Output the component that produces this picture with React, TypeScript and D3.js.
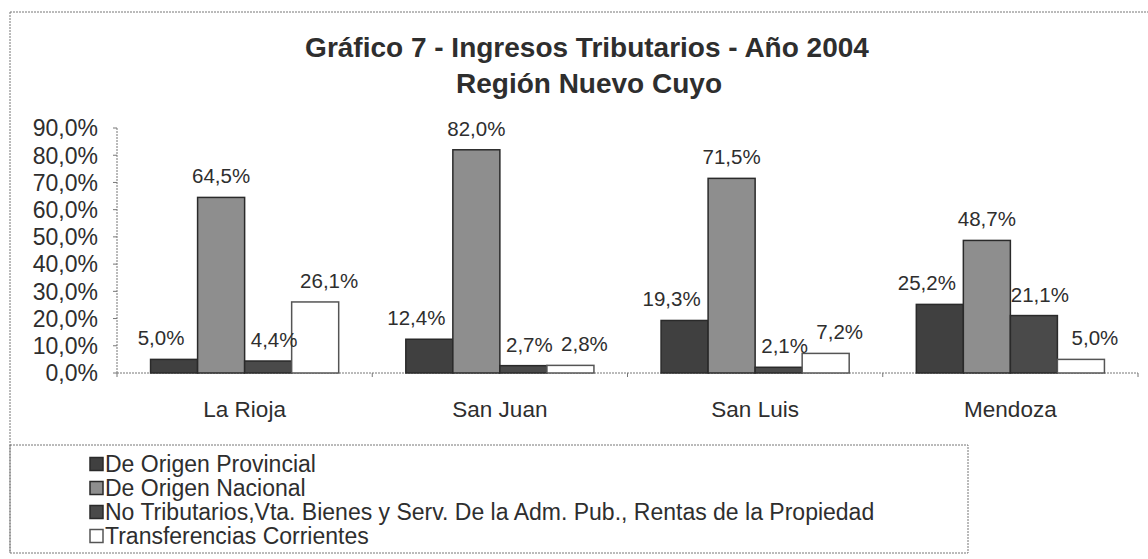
import React from "react";
import * as d3 from "d3";

const categories = ["La Rioja", "San Juan", "San Luis", "Mendoza"];
const seriesNames = [
  "De Origen Provincial",
  "De Origen Nacional",
  "No Tributarios,Vta. Bienes y Serv. De la Adm. Pub., Rentas de la Propiedad",
  "Transferencias Corrientes",
];
const provincial = [5.0, 12.4, 19.3, 25.2];
const nacional = [64.5, 82.0, 71.5, 48.7];
const noTributarios = [4.4, 2.7, 2.1, 21.1];
const transferencias = [26.1, 2.8, 7.2, 5.0];
const yTicks = [0, 10, 20, 30, 40, 50, 60, 70, 80, 90];

const seriesValues = [provincial, nacional, noTributarios, transferencias];
const fills = ["#404040", "#8e8e8e", "#4a4a4a", "#ffffff"];
const strokes = ["#2a2a2a", "#2a2a2a", "#2a2a2a", "#555555"];
// horizontal nudge of the value labels per series (label style)
const labelShift = [-13, 0, 6, 14];

const W = 1148;
const H = 559;
const FONT = "'Liberation Sans', Arial, sans-serif";
const TXT = "#2e2e2e";

const fmt = (v: number) => v.toFixed(1).replace(".", ",") + "%";

export default function App() {
  const left = 117;
  const right = 1138;
  const top = 128;
  const bottom = 373;

  const y = d3.scaleLinear().domain([0, 90]).range([bottom, top]);
  const x0 = d3
    .scaleBand<string>()
    .domain(categories)
    .range([left, right])
    .paddingInner(0.263)
    .paddingOuter(0.1315);
  const x1 = d3
    .scaleBand<string>()
    .domain(seriesNames)
    .range([0, x0.bandwidth()])
    .padding(0);
  const step = x0.step();

  return (
    <svg
      width={W}
      height={H}
      style={{ position: "absolute", left: 0, top: 0, background: "#fff" }}
      fontFamily={FONT}
    >
      {/* outer frame (top and left) */}
      <line x1={10} y1={12} x2={W} y2={12} stroke="#777" strokeDasharray="2,1" />
      <line x1={10} y1={12} x2={10} y2={553} stroke="#777" strokeDasharray="2,1" />

      {/* title */}
      <text x={587} y={57} textAnchor="middle" fontSize={28} fontWeight="bold" fill={TXT}>
        Gráfico 7 - Ingresos Tributarios - Año 2004
      </text>
      <text x={589} y={93} textAnchor="middle" fontSize={28} fontWeight="bold" fill={TXT}>
        Región Nuevo Cuyo
      </text>

      {/* y axis */}
      <line x1={left} y1={top} x2={left} y2={bottom} stroke="#777" strokeDasharray="2,1" />
      {yTicks.map((t) => (
        <g key={t}>
          <line x1={left - 4} x2={left} y1={y(t)} y2={y(t)} stroke="#777" />
          <text
            x={98}
            y={y(t)}
            dy="0.36em"
            textAnchor="end"
            fontSize={23}
            fill={TXT}
          >
            {fmt(t)}
          </text>
        </g>
      ))}

      {/* x axis */}
      <line x1={left} y1={bottom} x2={right} y2={bottom} stroke="#777" strokeDasharray="2,1" />
      {categories.map((c, i) => (
        <line
          key={c}
          x1={left + step * i}
          x2={left + step * i}
          y1={bottom}
          y2={bottom + 4}
          stroke="#777"
        />
      ))}
      <line x1={right} x2={right} y1={bottom} y2={bottom + 4} stroke="#777" />

      {/* bars */}
      {categories.map((c, ci) => (
        <g key={c} transform={`translate(${x0(c)},0)`}>
          {seriesNames.map((s, si) => {
            const v = seriesValues[si][ci];
            const bx = x1(s) as number;
            const bw = x1.bandwidth();
            return (
              <rect
                key={s}
                x={bx}
                y={y(v)}
                width={bw}
                height={bottom - y(v)}
                fill={fills[si]}
                stroke={strokes[si]}
                strokeWidth={1.5}
              />
            );
          })}
          {seriesNames.map((s, si) => {
            const v = seriesValues[si][ci];
            const bx = (x1(s) as number) + x1.bandwidth() / 2 + labelShift[si];
            return (
              <text
                key={s + "l"}
                x={bx}
                y={y(v) - 14}
                textAnchor="middle"
                fontSize={20.5}
                fill={TXT}
              >
                {fmt(v)}
              </text>
            );
          })}
        </g>
      ))}

      {/* category labels */}
      {categories.map((c) => (
        <text
          key={c}
          x={(x0(c) as number) + x0.bandwidth() / 2}
          y={417}
          textAnchor="middle"
          fontSize={22.5}
          fill={TXT}
        >
          {c}
        </text>
      ))}

      {/* legend */}
      <rect
        x={10}
        y={445}
        width={958}
        height={108}
        fill="none"
        stroke="#777"
        strokeDasharray="2,1"
      />
      {seriesNames.map((s, i) => {
        const cy = 464 + i * 24;
        return (
          <g key={s}>
            <rect
              x={90}
              y={cy - 6.5}
              width={13}
              height={13}
              fill={fills[i]}
              stroke={strokes[i]}
              strokeWidth={1.5}
            />
            <text x={105} y={cy} dy="0.36em" fontSize={23} fill={TXT}>
              {s}
            </text>
          </g>
        );
      })}
    </svg>
  );
}
